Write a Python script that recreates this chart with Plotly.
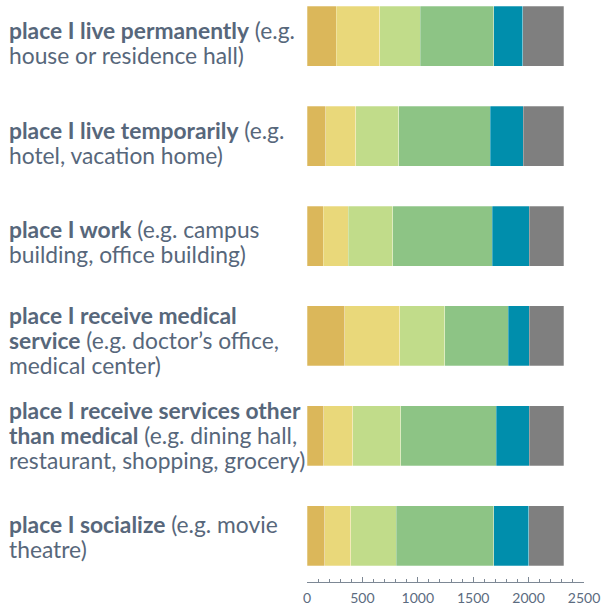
import plotly.graph_objects as go

# Locations asked about (top to bottom): bold part + example text, one entry per text line
places = [
    ["<b>place I live permanently</b> (e.g.", "house or residence hall)"],
    ["<b>place I live temporarily</b> (e.g.", "hotel, vacation home)"],
    ["<b>place I work</b> (e.g. campus", "building, office building)"],
    ["<b>place I receive medical</b>", "<b>service</b> (e.g. doctor\u2019s office,", "medical center)"],
    ["<b>place I receive services other</b>", "<b>than medical</b> (e.g. dining hall,",
     "restaurant, shopping, grocery)"],
    ["<b>place I socialize</b> (e.g. movie", "theatre)"],
]

# Response counts per rating level, one list per level (same order as places)
level_1 = [262, 168, 148, 339, 153, 159]
level_2 = [393, 271, 225, 497, 259, 235]
level_3 = [367, 388, 402, 408, 435, 412]
level_4 = [664, 829, 898, 571, 863, 880]
level_5 = [259, 297, 333, 192, 297, 315]
level_6 = [372, 364, 311, 310, 310, 316]

levels = [level_1, level_2, level_3, level_4, level_5, level_6]
level_names = ["Level 1", "Level 2", "Level 3", "Level 4", "Level 5", "Level 6"]
colors = ["#dbb75a", "#e9d87a", "#c1dc8a", "#8dc485", "#008eac", "#7f7f7f"]

x_ticks = [0, 500, 1000, 1500, 2000, 2500]

rows = list(range(len(places)))

fig = go.Figure()
for name, vals, col in zip(level_names, levels, colors):
    fig.add_trace(go.Bar(
        y=rows, x=vals, orientation="h", name=name,
        width=0.6,
        marker=dict(color=col, line=dict(color="rgba(255,255,255,0.45)", width=0.6)),
        hoverinfo="x+name",
    ))

text_color = "#57677b"
font_family = "Lato, 'Open Sans', sans-serif"

# vertical offset (px, positive = downward) of each block's first line from its bar centre
first_line_offset = [-6, -6.5, -7, -21, -26, -12]
line_step = 25
for r, lines in enumerate(places):
    for k, line in enumerate(lines):
        fig.add_annotation(
            x=-1.082, xref="paper", y=r, yref="y",
            text=line, showarrow=False,
            xanchor="left", yanchor="middle", align="left",
            yshift=-(first_line_offset[r] + k * line_step),
            font=dict(family=font_family, size=22.8, color=text_color),
        )

fig.update_layout(
    width=602, height=606,
    margin=dict(l=307, r=18, t=0, b=24),
    paper_bgcolor="white", plot_bgcolor="white",
    barmode="stack", showlegend=False,
    font=dict(family=font_family, color=text_color),
)

fig.update_xaxes(
    range=[0, 2500], tickvals=x_ticks, ticktext=[str(v) for v in x_ticks],
    showgrid=False, zeroline=False,
    showline=True, linecolor="#7d8895", linewidth=1,
    ticks="inside", ticklen=5, tickcolor="#7d8895", tickwidth=1,
    minor=dict(dtick=100, ticks="inside", ticklen=3, tickcolor="#7d8895", tickwidth=1),
    tickfont=dict(family=font_family, size=14, color="#5b6b80"),
    ticklabelstandoff=3,
    fixedrange=True,
)
fig.update_yaxes(
    range=[5.463, -0.363], showgrid=False, zeroline=False, showline=False,
    showticklabels=False, ticks="", fixedrange=True,
)

fig.write_html("out.html")
